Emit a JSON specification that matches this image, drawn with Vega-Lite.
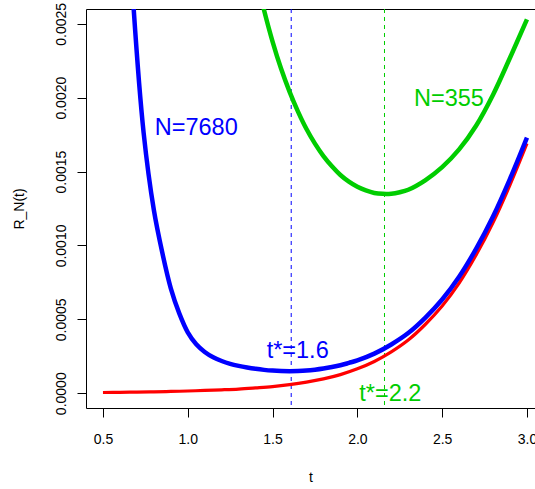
{
  "$schema": "https://vega.github.io/schema/vega-lite/v6.json",
  "width": 449,
  "height": 399,
  "autosize": {"type": "none"},
  "padding": {"left": 86, "top": 9, "right": 0, "bottom": 81},
  "background": "white",
  "config": {
    "view": {"stroke": null},
    "font": "Liberation Sans",
    "axis": {
      "grid": false,
      "domainColor": "black",
      "tickColor": "black",
      "labelColor": "black",
      "titleColor": "black",
      "labelFontSize": 14,
      "titleFontSize": 14,
      "titleFontWeight": "normal",
      "tickSize": 9,
      "domainWidth": 1,
      "tickWidth": 1,
      "labelFont": "Liberation Sans",
      "titleFont": "Liberation Sans"
    }
  },
  "datasets": {
    "curves": [
      {"series": "limit", "t": 0.5, "value": 0.000005},
      {"series": "limit", "t": 0.6, "value": 0.000006},
      {"series": "limit", "t": 0.7, "value": 0.0000075},
      {"series": "limit", "t": 0.8, "value": 0.0000095},
      {"series": "limit", "t": 0.9, "value": 0.000012},
      {"series": "limit", "t": 1.0, "value": 0.000015},
      {"series": "limit", "t": 1.1, "value": 0.000019},
      {"series": "limit", "t": 1.2, "value": 0.000023},
      {"series": "limit", "t": 1.3, "value": 0.000028},
      {"series": "limit", "t": 1.4, "value": 0.000036},
      {"series": "limit", "t": 1.5, "value": 0.000045},
      {"series": "limit", "t": 1.6, "value": 0.000058},
      {"series": "limit", "t": 1.7, "value": 0.000075},
      {"series": "limit", "t": 1.8, "value": 0.000097},
      {"series": "limit", "t": 1.9, "value": 0.000126},
      {"series": "limit", "t": 2.0, "value": 0.000165},
      {"series": "limit", "t": 2.1, "value": 0.000215},
      {"series": "limit", "t": 2.2, "value": 0.00028},
      {"series": "limit", "t": 2.3, "value": 0.00036},
      {"series": "limit", "t": 2.4, "value": 0.000465},
      {"series": "limit", "t": 2.5, "value": 0.00059},
      {"series": "limit", "t": 2.6, "value": 0.000745},
      {"series": "limit", "t": 2.7, "value": 0.000935},
      {"series": "limit", "t": 2.8, "value": 0.001155},
      {"series": "limit", "t": 2.9, "value": 0.00141},
      {"series": "limit", "t": 3.0, "value": 0.00169},

      {"series": "N=7680", "t": 0.5, "value": 0.0085},
      {"series": "N=7680", "t": 0.6, "value": 0.0046},
      {"series": "N=7680", "t": 0.65, "value": 0.00325},
      {"series": "N=7680", "t": 0.68, "value": 0.00262},
      {"series": "N=7680", "t": 0.74, "value": 0.00176},
      {"series": "N=7680", "t": 0.8, "value": 0.00124},
      {"series": "N=7680", "t": 0.85, "value": 0.00095},
      {"series": "N=7680", "t": 0.9, "value": 0.00071},
      {"series": "N=7680", "t": 0.95, "value": 0.00054},
      {"series": "N=7680", "t": 1.0, "value": 0.000412},
      {"series": "N=7680", "t": 1.05, "value": 0.000331},
      {"series": "N=7680", "t": 1.1, "value": 0.000279},
      {"series": "N=7680", "t": 1.15, "value": 0.000243},
      {"series": "N=7680", "t": 1.2, "value": 0.000218},
      {"series": "N=7680", "t": 1.25, "value": 0.000199},
      {"series": "N=7680", "t": 1.3, "value": 0.000185},
      {"series": "N=7680", "t": 1.35, "value": 0.000174},
      {"series": "N=7680", "t": 1.4, "value": 0.000165},
      {"series": "N=7680", "t": 1.45, "value": 0.000158},
      {"series": "N=7680", "t": 1.5, "value": 0.000153},
      {"series": "N=7680", "t": 1.55, "value": 0.00015},
      {"series": "N=7680", "t": 1.6, "value": 0.000149},
      {"series": "N=7680", "t": 1.65, "value": 0.00015},
      {"series": "N=7680", "t": 1.7, "value": 0.000153},
      {"series": "N=7680", "t": 1.75, "value": 0.000159},
      {"series": "N=7680", "t": 1.8, "value": 0.000167},
      {"series": "N=7680", "t": 1.85, "value": 0.000177},
      {"series": "N=7680", "t": 1.9, "value": 0.000189},
      {"series": "N=7680", "t": 1.95, "value": 0.000205},
      {"series": "N=7680", "t": 2.0, "value": 0.000222},
      {"series": "N=7680", "t": 2.1, "value": 0.000268},
      {"series": "N=7680", "t": 2.2, "value": 0.00033},
      {"series": "N=7680", "t": 2.3, "value": 0.000407},
      {"series": "N=7680", "t": 2.4, "value": 0.00051},
      {"series": "N=7680", "t": 2.5, "value": 0.000634},
      {"series": "N=7680", "t": 2.6, "value": 0.000788},
      {"series": "N=7680", "t": 2.7, "value": 0.000977},
      {"series": "N=7680", "t": 2.8, "value": 0.001196},
      {"series": "N=7680", "t": 2.9, "value": 0.001451},
      {"series": "N=7680", "t": 3.0, "value": 0.00173},

      {"series": "N=355", "t": 1.2, "value": 0.00422},
      {"series": "N=355", "t": 1.3, "value": 0.00343},
      {"series": "N=355", "t": 1.4, "value": 0.002833},
      {"series": "N=355", "t": 1.45, "value": 0.002592},
      {"series": "N=355", "t": 1.5, "value": 0.00238},
      {"series": "N=355", "t": 1.55, "value": 0.002197},
      {"series": "N=355", "t": 1.6, "value": 0.002041},
      {"series": "N=355", "t": 1.65, "value": 0.001906},
      {"series": "N=355", "t": 1.7, "value": 0.001788},
      {"series": "N=355", "t": 1.75, "value": 0.001689},
      {"series": "N=355", "t": 1.8, "value": 0.001605},
      {"series": "N=355", "t": 1.85, "value": 0.001536},
      {"series": "N=355", "t": 1.9, "value": 0.001477},
      {"series": "N=355", "t": 1.95, "value": 0.001432},
      {"series": "N=355", "t": 2.0, "value": 0.001397},
      {"series": "N=355", "t": 2.05, "value": 0.001372},
      {"series": "N=355", "t": 2.1, "value": 0.001355},
      {"series": "N=355", "t": 2.15, "value": 0.001349},
      {"series": "N=355", "t": 2.2, "value": 0.00135},
      {"series": "N=355", "t": 2.25, "value": 0.00136},
      {"series": "N=355", "t": 2.3, "value": 0.001377},
      {"series": "N=355", "t": 2.4, "value": 0.001441},
      {"series": "N=355", "t": 2.5, "value": 0.00153},
      {"series": "N=355", "t": 2.6, "value": 0.00165},
      {"series": "N=355", "t": 2.7, "value": 0.00181},
      {"series": "N=355", "t": 2.8, "value": 0.00202},
      {"series": "N=355", "t": 2.9, "value": 0.00227},
      {"series": "N=355", "t": 3.0, "value": 0.00253}
    ],
    "optima": [
      {"series": "N=7680", "tstar": 1.61},
      {"series": "N=355", "tstar": 2.16}
    ],
    "labels": [
      {"series": "N=7680", "label": "N=7680", "t": 1.05, "value": 0.0018},
      {"series": "N=7680", "label": "t*=1.6", "t": 1.648, "value": 0.00029},
      {"series": "N=355", "label": "N=355", "t": 2.54, "value": 0.002},
      {"series": "N=355", "label": "t*=2.2", "t": 2.194, "value": 0.0}
    ]
  },
  "layer": [
    {
      "data": {"name": "optima"},
      "mark": {"type": "rule", "strokeWidth": 1, "strokeDash": [4, 4]},
      "encoding": {
        "x": {"field": "tstar", "type": "quantitative",
              "scale": {"domain": [0.4, 3.0474], "nice": false, "zero": false},
              "axis": {"orient": "top", "labels": false, "ticks": false, "domain": true, "title": null}},
        "color": {"field": "series", "type": "nominal",
                  "scale": {"domain": ["N=7680", "N=355"], "range": ["#0000FF", "#00CD00"]},
                  "legend": null}
      }
    },
    {
      "data": {"name": "curves"},
      "transform": [{"filter": "datum.series === 'limit'"}],
      "mark": {"type": "line", "color": "#FF0000", "strokeWidth": 3.2, "clip": true, "interpolate": "catmull-rom"},
      "encoding": {
        "x": {"field": "t", "type": "quantitative",
              "scale": {"domain": [0.4, 3.0474], "nice": false, "zero": false},
              "axis": {"orient": "bottom", "title": "t", "values": [0.5, 1, 1.5, 2, 2.5, 3], "format": ".1f",
                       "labelPadding": 15, "titlePadding": 24, "labelFlush": false, "labelOverlap": false}},
        "y": {"field": "value", "type": "quantitative",
              "scale": {"domain": [-0.0001, 0.0026], "nice": false, "zero": false},
              "axis": {"title": "R_N(t)", "values": [0, 0.0005, 0.001, 0.0015, 0.002, 0.0025], "format": ".4f",
                       "labelAngle": 270, "labelAlign": "center", "labelBaseline": "alphabetic",
                       "labelPadding": 12, "titlePadding": 28, "labelFlush": false, "labelOverlap": false}}
      }
    },
    {
      "data": {"name": "curves"},
      "transform": [{"filter": "datum.series === 'N=7680'"}],
      "mark": {"type": "line", "color": "#0000FF", "strokeWidth": 4.5, "clip": true, "interpolate": "catmull-rom"},
      "encoding": {
        "x": {"field": "t", "type": "quantitative",
              "scale": {"domain": [0.4, 3.0474], "nice": false, "zero": false}, "axis": null},
        "y": {"field": "value", "type": "quantitative",
              "scale": {"domain": [-0.0001, 0.0026], "nice": false, "zero": false}}
      }
    },
    {
      "data": {"name": "curves"},
      "transform": [{"filter": "datum.series === 'N=355'"}],
      "mark": {"type": "line", "color": "#00CD00", "strokeWidth": 4.5, "clip": true, "interpolate": "catmull-rom"},
      "encoding": {
        "x": {"field": "t", "type": "quantitative",
              "scale": {"domain": [0.4, 3.0474], "nice": false, "zero": false}, "axis": null},
        "y": {"field": "value", "type": "quantitative",
              "scale": {"domain": [-0.0001, 0.0026], "nice": false, "zero": false}}
      }
    },
    {
      "data": {"name": "labels"},
      "mark": {"type": "text", "fontSize": 23.5, "font": "Liberation Sans", "align": "center", "baseline": "middle", "dy": 1},
      "encoding": {
        "x": {"field": "t", "type": "quantitative",
              "scale": {"domain": [0.4, 3.0474], "nice": false, "zero": false}, "axis": null},
        "y": {"field": "value", "type": "quantitative",
              "scale": {"domain": [-0.0001, 0.0026], "nice": false, "zero": false}},
        "text": {"field": "label", "type": "nominal"},
        "color": {"field": "series", "type": "nominal",
                  "scale": {"domain": ["N=7680", "N=355"], "range": ["#0000FF", "#00CD00"]},
                  "legend": null}
      }
    }
  ],
  "resolve": {"axis": {"x": "independent"}}
}
